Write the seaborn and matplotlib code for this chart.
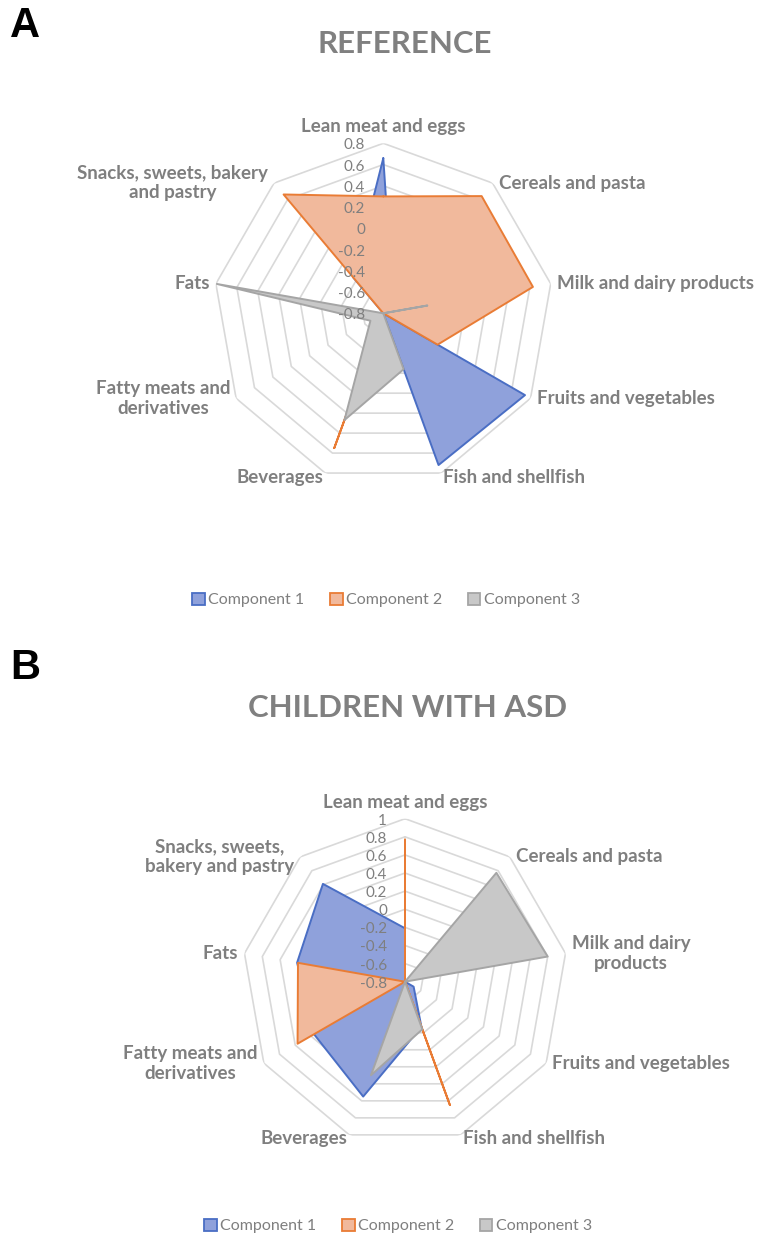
import numpy as np
import matplotlib
matplotlib.use("Agg")
import matplotlib.pyplot as plt
import matplotlib.transforms as mtransforms
from matplotlib.patches import Patch
import seaborn as sns

# categories clockwise from the top
categories_a = ["Lean meat and eggs", "Cereals and pasta", "Milk and dairy products",
                "Fruits and vegetables", "Fish and shellfish", "Beverages",
                "Fatty meats and\nderivatives", "Fats", "Snacks, sweets, bakery\nand pastry"]
categories_b = ["Lean meat and eggs", "Cereals and pasta", "Milk and dairy\nproducts",
                "Fruits and vegetables", "Fish and shellfish", "Beverages",
                "Fatty meats and\nderivatives", "Fats", "Snacks, sweets,\nbakery and pastry"]

# A - reference group
ref_comp1 = [0.66, -0.66, -0.80, 0.74, 0.72, -0.80, -0.80, -0.80, -0.36]
ref_comp2 = [0.30, 0.64, 0.63, -0.21, -0.80, 0.55, -0.80, -0.80, 0.66]
ref_comp3 = [-0.80, -0.80, -0.38, -0.80, -0.24, 0.27, -0.66, 0.79, -0.80]
ref_ticks = [-0.8, -0.6, -0.4, -0.2, 0, 0.2, 0.4, 0.6, 0.8]

# B - children with ASD
asd_comp1 = [-0.21, -0.80, -0.80, -0.69, -0.27, 0.55, 0.36, 0.41, 0.61]
asd_comp2 = [0.77, -0.80, -0.80, -0.80, 0.65, -0.80, 0.57, 0.40, -0.80]
asd_comp3 = [-0.80, 0.77, 0.80, -0.80, -0.24, 0.30, -0.80, -0.80, -0.80]
asd_ticks = [-0.8, -0.6, -0.4, -0.2, 0, 0.2, 0.4, 0.6, 0.8, 1]

series_names = ["Component 1", "Component 2", "Component 3"]
edge_colors = ["#4A6EC4", "#E97C35", "#A5A5A5"]
fill_colors = ["#8FA1DB", "#F1B99C", "#C8C8C8"]
text_gray = "#7F7F7F"
grid_gray = "#D9D9D9"

sns.set_theme(style="white")
plt.rcParams["font.family"] = ["Lato", "DejaVu Sans"]

fig = plt.figure(figsize=(7.67, 12.5), dpi=100)
W, H = 767, 1250


def fmt(v):
    s = f"{v:.1f}".rstrip("0").rstrip(".")
    return "0" if s in ("-0", "") else s


def radar(cx, cy, R, cats, comps, ticks):
    ''' draw one Excel-like radar chart centred at pixel (cx, cy) '''
    ax = fig.add_axes([(cx - R) / W, (H - cy - R) / H, 2 * R / W, 2 * R / H],
                      projection="polar")
    ax.set_theta_zero_location("N")
    ax.set_theta_direction(-1)
    ax.set_ylim(ticks[0], ticks[-1])
    ax.grid(False)
    ax.spines["polar"].set_visible(False)
    ax.set_xticks([])
    ax.set_yticks([])
    ax.patch.set_alpha(0)

    n = len(cats)
    theta = np.linspace(0, 2 * np.pi, n, endpoint=False)
    closed = np.append(theta, theta[0])

    for v in ticks[1:]:
        ax.plot(closed, [v] * (n + 1), color=grid_gray, lw=1.2, zorder=1)

    for i, vals in enumerate(comps):
        r = np.append(vals, vals[0])
        ax.fill(closed, r, color=fill_colors[i], zorder=2 + i, lw=0)
        ax.plot(closed, r, color=edge_colors[i], lw=1.4, zorder=2 + i)

    # value labels on the vertical axis
    tr = mtransforms.offset_copy(ax.transData, fig=fig, x=-18, y=-2, units="dots")
    for v in ticks:
        ax.text(0, v, fmt(v), transform=tr, ha="right", va="center",
                fontsize=11, color=text_gray, zorder=10)

    # category labels
    rmax = ticks[-1]
    for k, lab in enumerate(cats):
        deg = np.degrees(theta[k])
        if deg == 0:
            ha, va, dx, dy = "center", "bottom", 0, 8
        elif deg < 150:
            ha, va, dx, dy = "left", "center", 6, 0
        elif deg < 180:
            ha, va, dx, dy = "left", "center", 2, -4
        elif deg < 210:
            ha, va, dx, dy = "right", "center", -2, -4
        else:
            ha, va, dx, dy = "right", "center", -6, 0
        t = mtransforms.offset_copy(ax.transData, fig=fig, x=dx, y=dy, units="dots")
        ax.text(theta[k], rmax, lab, transform=t, ha=ha, va=va,
                multialignment="center", linespacing=1.2,
                fontsize=13.5, fontweight="bold", color=text_gray)
    return ax


radar(383.3, 313.3, 170, categories_a, [ref_comp1, ref_comp2, ref_comp3], ref_ticks)
radar(405, 981.7, 163, categories_b, [asd_comp1, asd_comp2, asd_comp3], asd_ticks)

# panel letters and titles
fig.text(10 / W, 1 - 6 / H, "A", ha="left", va="top", fontsize=30,
         fontweight="bold", color="black", family="Liberation Sans")
fig.text(10 / W, 1 - 648 / H, "B", ha="left", va="top", fontsize=30,
         fontweight="bold", color="black", family="Liberation Sans")
fig.text(405 / W, 1 - 44 / H, "REFERENCE", ha="center", va="center",
         fontsize=22.5, fontweight="bold", color="#808080")
fig.text(408 / W, 1 - 708 / H, "CHILDREN WITH ASD", ha="center", va="center",
         fontsize=22.5, fontweight="bold", color="#808080")

handles = [Patch(facecolor=fill_colors[i], edgecolor=edge_colors[i], lw=1.3,
                 label=series_names[i]) for i in range(3)]
for xc, yc in [(386, 600), (398, 1226)]:
    fig.legend(handles=handles, loc="center", bbox_to_anchor=(xc / W, 1 - yc / H),
               ncol=3, frameon=False, fontsize=11.5, labelcolor=text_gray,
               handlelength=0.8, handleheight=0.8, handletextpad=0.2,
               columnspacing=1.6)

fig.savefig("out.png", dpi=100)
